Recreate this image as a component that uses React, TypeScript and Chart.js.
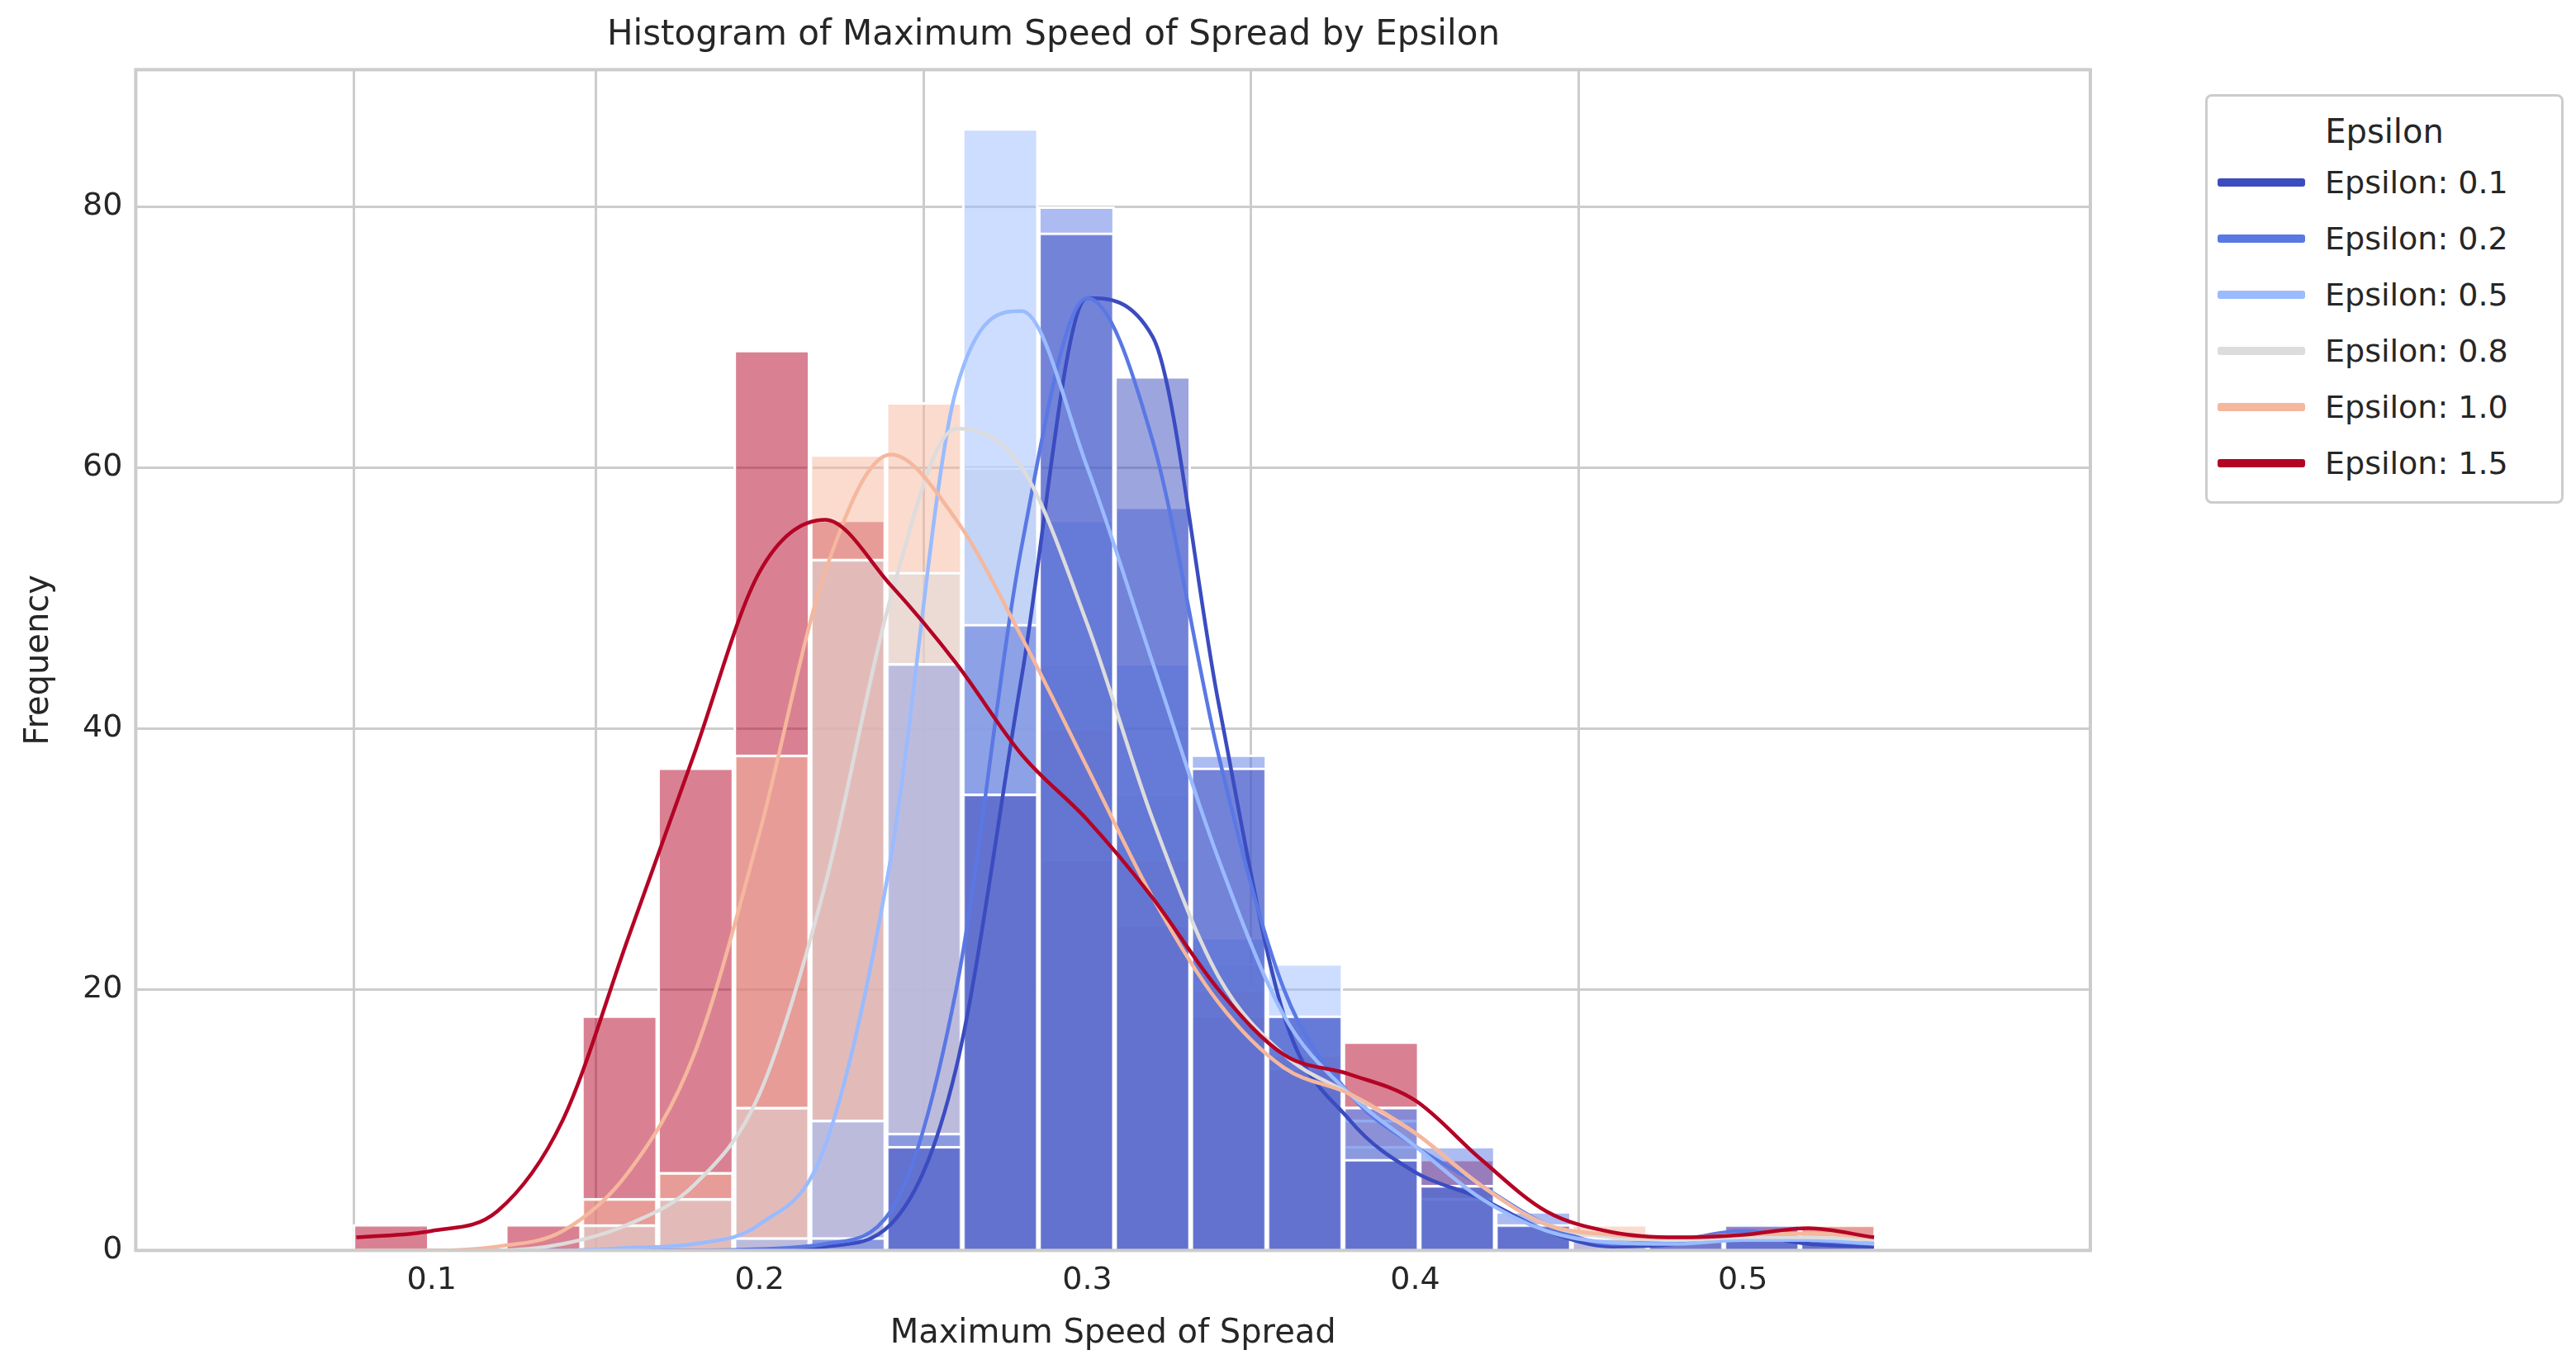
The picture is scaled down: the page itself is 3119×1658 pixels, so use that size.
import React, { useEffect, useRef } from "react";
import { Chart, registerables } from "chart.js";
Chart.register(...registerables);

const binStart = 0.076;
const binWidth = 0.02323;
const epsilonLabels = ["Epsilon: 0.1", "Epsilon: 0.2", "Epsilon: 0.5", "Epsilon: 0.8", "Epsilon: 1.0", "Epsilon: 1.5"];
const colors = ["#3b4cc0", "#5a78e4", "#9abbff", "#dddcdc", "#f5b79d", "#b40426"];
const hist01 = [0, 0, 0, 0, 0, 0, 0, 8, 35, 78, 67, 37, 18, 7, 5, 2, 0, 1, 1, 1];
const hist02 = [0, 0, 0, 0, 0, 0, 1, 9, 48, 80, 57, 38, 18, 11, 8, 3, 0, 1, 2, 1];
const hist05 = [0, 0, 0, 0, 0, 1, 10, 45, 86, 56, 45, 24, 22, 11, 5, 2, 1, 0, 1, 0];
const hist08 = [0, 0, 0, 2, 4, 11, 53, 52, 60, 45, 35, 22, 14, 8, 4, 2, 1, 0, 1, 1];
const hist10 = [0, 0, 0, 4, 6, 38, 61, 65, 48, 40, 30, 20, 15, 10, 5, 2, 2, 1, 1, 2];
const hist15 = [2, 0, 2, 18, 37, 69, 56, 45, 35, 30, 25, 18, 14, 16, 7, 2, 1, 0, 2, 2];
const kdeX = [0.077, 0.10, 0.12, 0.14, 0.16, 0.18, 0.20, 0.22, 0.24, 0.26, 0.28, 0.30, 0.32, 0.34, 0.36, 0.38, 0.40, 0.42, 0.44, 0.46, 0.48, 0.50, 0.52, 0.54];
const kde01 = [0, 0, 0, 0, 0, 0, 0, 0.3, 2, 14, 44, 73, 70, 42, 18, 10, 6, 4, 1.5, 0.3, 0.5, 1.2, 0.5, 0.3];
const kde02 = [0, 0, 0, 0, 0, 0, 0.1, 0.5, 3, 20, 54, 73, 62, 38, 20, 12, 8, 5, 2, 0.5, 0.8, 1.5, 0.8, 0.5];
const kde05 = [0, 0, 0, 0, 0.2, 0.5, 2, 8, 30, 66, 72, 60, 45, 30, 18, 12, 8, 4, 1.5, 0.6, 0.5, 0.8, 0.8, 0.5];
const kde08 = [0, 0, 0, 0.5, 2, 5, 12, 28, 50, 63, 60, 48, 33, 21, 15, 12, 9, 5, 2, 1, 0.8, 1, 1, 0.8];
const kde10 = [0, 0, 0.3, 1.5, 6, 15, 32, 52, 61, 56, 47, 37, 27, 19, 14, 12, 9, 5, 2, 1.2, 1, 1.2, 1.3, 1];
const kde15 = [1, 1.5, 3, 10, 24, 38, 52, 56, 51, 45, 38, 33, 27, 20, 15, 13.5, 11.5, 7, 3, 1.4, 1, 1.2, 1.7, 1];

const hists = [hist01, hist02, hist05, hist08, hist10, hist15];
const kdes = [kde01, kde02, kde05, kde08, kde10, kde15];

function alpha(hex: string, a: number) {
  const n = parseInt(hex.slice(1), 16);
  return `rgba(${(n >> 16) & 255},${(n >> 8) & 255},${n & 255},${a})`;
}

const FONT = "DejaVu Sans";
const isTenth = (v: number) => Math.abs(v * 10 - Math.round(v * 10)) < 1e-6;

export default function App() {
  const ref = useRef<HTMLCanvasElement>(null);
  useEffect(() => {
    const datasets: any[] = [];
    hists.forEach((h, i) => {
      datasets.push({
        type: "bar",
        data: h.map((v, k) => ({ x: binStart + binWidth * (k + 0.5), y: v })),
        backgroundColor: alpha(colors[i], 0.5),
        borderColor: "#ffffff",
        borderWidth: 3,
        barPercentage: 1,
        categoryPercentage: 1,
        grouped: false,
        order: 10 + i,
      });
    });
    kdes.forEach((k, i) => {
      datasets.push({
        type: "line",
        data: k.map((v, j) => ({ x: kdeX[j], y: v })),
        borderColor: colors[i],
        borderWidth: 4.5,
        pointRadius: 0,
        cubicInterpolationMode: "monotone",
        fill: false,
        order: 6 - i,
      });
    });
    const border = {
      id: "border",
      afterDraw(c: any) {
        const a = c.chartArea;
        c.ctx.save();
        c.ctx.strokeStyle = "#cccccc";
        c.ctx.lineWidth = 4;
        c.ctx.strokeRect(a.left, a.top, a.right - a.left, a.bottom - a.top);
        c.ctx.restore();
      },
    };
    const chart = new Chart(ref.current!, {
      type: "bar",
      data: { datasets },
      plugins: [border],
      options: {
        animation: false,
        responsive: false,
        devicePixelRatio: 1,
        layout: { padding: { left: 20, right: 588, top: 8, bottom: 14 } },
        plugins: {
          legend: { display: false },
          tooltip: { enabled: false },
          title: { display: true, text: "Histogram of Maximum Speed of Spread by Epsilon", color: "#262626", font: { family: FONT, size: 42, weight: "normal" }, padding: { top: 10, bottom: 16 } },
        },
        scales: {
          x: {
            type: "linear", min: 0.0523, max: 0.5634,
            ticks: {
              stepSize: 0.1, autoSkip: false, maxRotation: 0,
              color: "#262626", font: { family: FONT, size: 38 }, padding: 14,
              callback: (v: any) => (isTenth(Number(v)) ? Number(v).toFixed(1) : ""),
            },
            grid: {
              lineWidth: 3, drawTicks: false,
              color: (ctx: any) => (ctx.tick && isTenth(ctx.tick.value) ? "#cccccc" : "rgba(0,0,0,0)"),
            },
            border: { display: false },
            title: { display: true, text: "Maximum Speed of Spread", color: "#262626", font: { family: FONT, size: 40 }, padding: { top: 4 } },
          },
          y: {
            min: 0, max: 90.5,
            ticks: {
              stepSize: 20, color: "#262626", font: { family: FONT, size: 38 }, padding: 16,
              callback: (v: any) => (Number(v) % 20 === 0 ? String(v) : ""),
            },
            grid: {
              lineWidth: 3, drawTicks: false,
              color: (ctx: any) => (ctx.tick && ctx.tick.value % 20 === 0 ? "#cccccc" : "rgba(0,0,0,0)"),
            },
            border: { display: false },
            title: { display: true, text: "Frequency", color: "#262626", font: { family: FONT, size: 40 }, padding: { bottom: 12 } },
          },
        },
      } as any,
    });
    return () => chart.destroy();
  }, []);
  return (
    <div style={{ position: "absolute", left: 0, top: 0, width: 3119, height: 1658, background: "#fff", fontFamily: FONT }}>
      <canvas ref={ref} width={3119} height={1658} style={{ width: 3119, height: 1658 }} />
      <div style={{ position: "absolute", left: 2670, top: 114, width: 434, height: 496, border: "3px solid #cccccc", borderRadius: 8, padding: "14px 0 0 0", boxSizing: "border-box", background: "#fff" }}>
        <div style={{ textAlign: "center", fontSize: 40, color: "#262626", height: 56, lineHeight: "56px" }}>Epsilon</div>
        {epsilonLabels.map((l, i) => (
          <div key={l} style={{ display: "flex", alignItems: "center", height: 68, fontSize: 38, color: "#262626" }}>
            <div style={{ width: 106, height: 10, background: colors[i], marginLeft: 12, marginRight: 24, borderRadius: 3 }} />
            {l}
          </div>
        ))}
      </div>
    </div>
  );
}
